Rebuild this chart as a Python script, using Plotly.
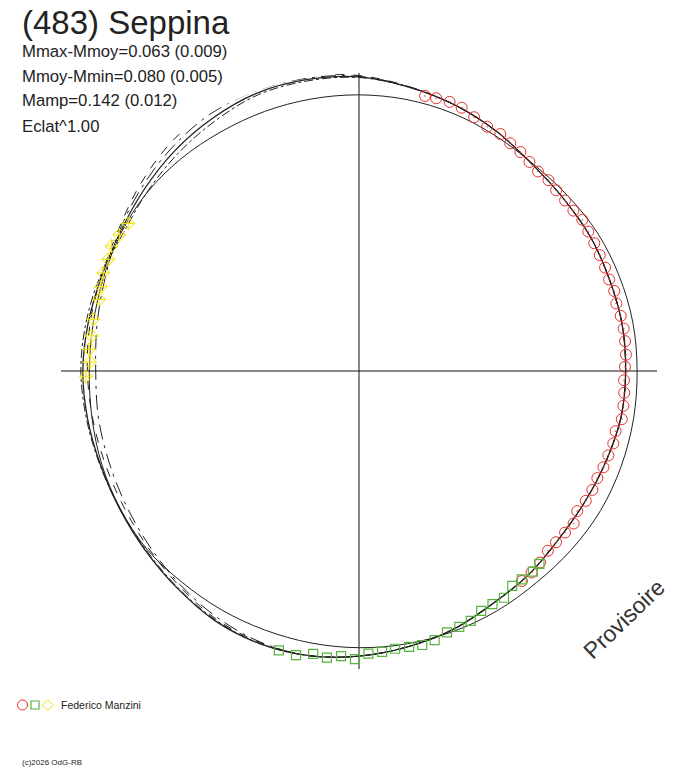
import plotly.graph_objects as go

# rotational phase (deg, clockwise from top) and relative brightness for each session
red_phase = [13.5, 15.8, 18.6, 21.3, 24.4, 27.7, 30.8, 33.6, 36.4, 39.2, 41.9, 44.8,
             47.5, 50.4, 53.2, 55.9, 58.7, 61.5, 64.3, 67.2, 69.9, 72.6, 75.3, 78.1,
             80.9, 83.6, 86.5, 89.1, 92.0, 94.7, 97.5, 100.4, 103.2, 105.9, 108.7,
             111.5, 114.2, 117.0, 119.8, 122.7, 125.4, 128.1, 131.0, 133.6, 136.6,
             139.4, 142.2]
red_flux = [1.010, 1.012, 1.014, 1.009, 0.995, 0.985, 0.985, 0.976, 0.971, 0.963,
            0.957, 0.960, 0.955, 0.955, 0.956, 0.963, 0.958, 0.956, 0.954, 0.953,
            0.951, 0.955, 0.950, 0.955, 0.957, 0.956, 0.955, 0.950, 0.947, 0.950,
            0.952, 0.954, 0.941, 0.944, 0.940, 0.938, 0.933, 0.935, 0.933, 0.926,
            0.940, 0.935, 0.932, 0.931, 0.941, 0.947, 0.949]

green_phase = [136.9, 139.1, 142.0, 144.5, 147.4, 150.2, 153.0, 155.9, 158.6, 161.4,
               164.3, 167.0, 169.7, 172.6, 175.3, 178.1, 180.8, 183.6, 186.4, 189.2,
               192.5, 196.0]
green_flux = [0.943, 0.948, 0.944, 0.942, 0.961, 0.959, 0.961, 0.977, 0.981, 0.985,
              0.998, 1.004, 1.001, 1.000, 1.006, 1.010, 1.029, 1.020, 1.030, 1.023,
              1.039, 1.038]

yellow_phase = [302.6, 299.6, 296.8, 294.0, 291.0, 288.1, 285.4, 281.0, 277.5, 274.6,
                271.9, 268.9]
yellow_flux = [0.978, 0.984, 0.990, 0.980, 0.978, 0.969, 0.962, 0.967, 0.963, 0.966,
               0.961, 0.975]

# fitted curves sampled every 10 deg
grid = [0, 10, 20, 30, 40, 50, 60, 70, 80, 90, 100, 110, 120, 130, 140, 150, 160, 170,
        180, 190, 200, 210, 220, 230, 240, 250, 260, 270, 280, 290, 300, 310, 320, 330,
        340, 350, 360]
fit_main = [1.050, 1.029, 1.009, 0.986, 0.963, 0.955, 0.955, 0.952, 0.954, 0.952,
            0.950, 0.939, 0.932, 0.932, 0.946, 0.958, 0.982, 1.000, 1.018, 1.032,
            1.036, 1.029, 1.011, 0.996, 0.986, 0.982, 0.984, 0.986, 0.982, 0.979,
            0.986, 1.004, 1.025, 1.043, 1.057, 1.057, 1.050]
fit_dash = [1.055, 1.031, 1.009, 0.986, 0.963, 0.955, 0.955, 0.952, 0.954, 0.952,
            0.950, 0.939, 0.932, 0.932, 0.946, 0.958, 0.982, 1.000, 1.018, 1.032,
            1.032, 1.022, 1.000, 0.982, 0.970, 0.965, 0.966, 0.970, 0.975, 0.980,
            0.995, 1.025, 1.055, 1.075, 1.078, 1.070, 1.055]
fit_dashdot = [1.048, 1.029, 1.009, 0.986, 0.963, 0.955, 0.955, 0.952, 0.954, 0.952,
               0.950, 0.939, 0.932, 0.932, 0.946, 0.958, 0.982, 1.000, 1.018, 1.032,
               1.036, 1.026, 1.008, 0.993, 0.985, 0.984, 0.988, 0.993, 0.990, 0.984,
               0.975, 0.990, 1.010, 1.030, 1.050, 1.052, 1.048]
fit_longdash = [1.052, 1.030, 1.009, 0.986, 0.963, 0.955, 0.955, 0.952, 0.954, 0.952,
                0.950, 0.939, 0.932, 0.932, 0.946, 0.958, 0.982, 1.000, 1.018, 1.032,
                1.030, 1.015, 0.995, 0.975, 0.960, 0.950, 0.945, 0.940, 0.950, 0.965,
                0.990, 1.015, 1.040, 1.060, 1.066, 1.062, 1.052]
ref_curve = [0.986, 0.984, 0.979, 0.971, 0.966, 0.973, 0.984, 0.989, 0.993, 0.993,
             0.995, 0.996, 0.996, 0.991, 0.986, 0.988, 0.989, 0.989, 0.988, 0.986,
             0.984, 0.984, 0.984, 0.989, 0.984, 0.977, 0.968, 0.963, 0.964, 0.971,
             0.982, 0.989, 0.989, 0.986, 0.986, 0.986, 0.986]

W, H = 688, 768
FONT = "Liberation Sans, Arial, sans-serif"
INK = "#222222"

fig = go.Figure()

for vals, dash, width in [(ref_curve, "solid", 1), (fit_dash, "dash", 1),
                          (fit_dashdot, "dashdot", 1), (fit_longdash, "longdashdot", 1),
                          (fit_main, "solid", 1.3)]:
    fig.add_trace(go.Scatterpolar(r=vals, theta=grid, mode="lines", cliponaxis=False,
                                  line=dict(color=INK, width=width, dash=dash, shape="spline")))

fig.add_trace(go.Scatterpolar(r=red_flux, theta=red_phase, mode="markers", cliponaxis=False,
                              marker=dict(symbol="circle-open-dot", size=11, color="#e8302c",
                                          line=dict(width=1))))
fig.add_trace(go.Scatterpolar(r=green_flux, theta=green_phase, mode="markers", cliponaxis=False,
                              marker=dict(symbol="square-open", size=9, color="#55b43c",
                                          line=dict(width=1.2))))
fig.add_trace(go.Scatterpolar(r=yellow_flux, theta=yellow_phase, mode="markers", cliponaxis=False,
                              marker=dict(symbol="diamond-cross-open", size=10, color="#f2e200",
                                          line=dict(width=1))))

cx, cy, R = 359, 371, 298
fig.update_layout(
    width=W, height=H,
    margin=dict(l=0, r=0, t=0, b=0),
    paper_bgcolor="white",
    showlegend=False,
    polar=dict(
        domain=dict(x=[(cx - R) / W, (cx + R) / W], y=[1 - (cy + R) / H, 1 - (cy - R) / H]),
        bgcolor="white",
        radialaxis=dict(range=[0, 1.064], visible=False, showgrid=False),
        angularaxis=dict(rotation=90, direction="clockwise", dtick=90, showgrid=True,
                         gridcolor="#111111", gridwidth=1, showline=False,
                         showticklabels=False, ticks=""),
    ),
)

def px(x, y):
    return x / W, 1 - y / H

texts = [
    ("(483) Seppina", 20, 23, 33),
    ("Mmax-Mmoy=0.063 (0.009)", 20, 51, 16.7),
    ("Mmoy-Mmin=0.080 (0.005)", 20, 76, 16.7),
    ("Mamp=0.142 (0.012)", 20, 101, 16.7),
    ("Eclat^1.00", 20, 126, 16.7),
    ("Federico Manzini", 59, 705, 10.5),
    ("(c)2026 OdG-RB", 20, 762, 8),
]
for t, x, y, s in texts:
    ax, ay = px(x, y)
    fig.add_annotation(text=t, x=ax, y=ay, xref="paper", yref="paper", showarrow=False,
                       xanchor="left", yanchor="middle", font=dict(family=FONT, size=s, color=INK))

ax, ay = px(624, 619)
fig.add_annotation(text="Provisoire", x=ax, y=ay, xref="paper", yref="paper", showarrow=False,
                   xanchor="center", yanchor="middle", textangle=-44,
                   font=dict(family=FONT, size=23, color="#333333"))

# legend symbols at the bottom
x0, y0 = px(17.5, 700)
x1, y1 = px(27.5, 710)
fig.add_shape(type="circle", xref="paper", yref="paper", x0=x0, y0=y1, x1=x1, y1=y0,
              line=dict(color="#e8302c", width=1))
x0, y0 = px(31, 701)
x1, y1 = px(39, 709)
fig.add_shape(type="rect", xref="paper", yref="paper", x0=x0, y0=y1, x1=x1, y1=y0,
              line=dict(color="#55b43c", width=1.2))
pts = [px(47.8, 699.5), px(53.3, 705), px(47.8, 710.5), px(42.3, 705)]
path = "M " + " L ".join(f"{a:.5f},{b:.5f}" for a, b in pts) + " Z"
fig.add_shape(type="path", xref="paper", yref="paper", path=path,
              line=dict(color="#f2e200", width=1))

# drop the browser's default page margin so the figure sits at the window corner
fig.write_html("out.html", config={"displayModeBar": False},
               post_script="document.body.style.margin='0';")
